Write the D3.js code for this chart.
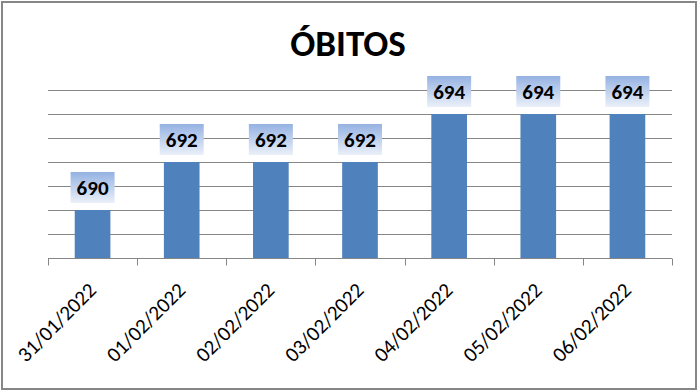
<!DOCTYPE html>
<html>
<head>
<meta charset="utf-8">
<script src="https://cdn.jsdelivr.net/npm/d3@7"></script>
<style>
  html, body { margin: 0; padding: 0; background: #fff; }
  svg { display: block; font-family: Carlito, Calibri, "Liberation Sans", sans-serif; }
</style>
</head>
<body>
<div id="chart"></div>
<script>
const categories = ['31/01/2022', '01/02/2022', '02/02/2022', '03/02/2022', '04/02/2022', '05/02/2022', '06/02/2022'];
const obitos = [690, 692, 692, 692, 694, 694, 694];
const yDomain = [688, 695];
const gridValues = [689, 690, 691, 692, 693, 694, 695];

const width = 698, height = 391;
const margin = {top: 90, right: 26, bottom: 133, left: 48};
const innerW = width - margin.left - margin.right,
    innerH = height - margin.top - margin.bottom;

const svg = d3.select('#chart')
    .append('svg')
    .attr('width', width)
    .attr('height', height);

const defs = svg.append('defs');
const grad = defs.append('linearGradient')
    .attr('id', 'labelGrad')
    .attr('x1', 0).attr('y1', 0).attr('x2', 0).attr('y2', 1);
grad.append('stop').attr('offset', '0%').attr('stop-color', '#95b2e3');
grad.append('stop').attr('offset', '100%').attr('stop-color', '#ebf0f9');

// outer frame
svg.append('rect')
    .attr('x', 2).attr('y', 2)
    .attr('width', width - 4).attr('height', height - 4)
    .attr('fill', '#fff')
    .attr('stroke', '#868686')
    .attr('stroke-width', 2);

svg.append('text')
    .attr('x', 348)
    .attr('y', 56)
    .attr('text-anchor', 'middle')
    .attr('font-size', 37)
    .attr('font-weight', 'bold')
    .attr('fill', '#000')
    .text('ÓBITOS');

const g = svg.append('g')
    .attr('transform', `translate(${margin.left}, ${margin.top})`);

const x = d3.scaleBand()
    .domain(categories)
    .range([0, innerW])
    .paddingInner(0.6)
    .paddingOuter(0.3);

const y = d3.scaleLinear()
    .domain(yDomain)
    .range([innerH, 0]);

// gridlines
g.append('g')
    .selectAll('line')
    .data(gridValues)
    .enter().append('line')
    .attr('x1', 0).attr('x2', innerW)
    .attr('y1', d => Math.round(y(d)) + 0.5)
    .attr('y2', d => Math.round(y(d)) + 0.5)
    .attr('stroke', '#868686')
    .attr('stroke-width', 1);

// bars
g.append('g')
    .selectAll('rect')
    .data(obitos)
    .enter().append('rect')
    .attr('x', (d, i) => x(categories[i]))
    .attr('y', d => y(d))
    .attr('width', x.bandwidth())
    .attr('height', d => innerH - y(d))
    .attr('fill', '#4f81bd');

// x axis line + boundary ticks
const axis = g.append('g').attr('transform', `translate(0, ${Math.round(innerH) + 0.5})`);
axis.append('line')
    .attr('x1', 0).attr('x2', innerW)
    .attr('stroke', '#868686');
const bounds = d3.range(categories.length + 1).map(i => i * x.step());
axis.selectAll('.tick')
    .data(bounds)
    .enter().append('line')
    .attr('x1', d => Math.round(d) + 0.5)
    .attr('x2', d => Math.round(d) + 0.5)
    .attr('y1', 0).attr('y2', 7)
    .attr('stroke', '#868686');

// category labels
axis.selectAll('.lbl')
    .data(categories)
    .enter().append('text')
    .attr('transform', d => `translate(${x(d) + x.bandwidth() / 2 + 5}, 33) rotate(-45)`)
    .attr('text-anchor', 'end')
    .attr('font-size', 21)
    .attr('fill', '#000')
    .text(d => d);

// value labels
const labels = g.append('g')
    .selectAll('g')
    .data(obitos)
    .enter().append('g')
    .attr('transform', (d, i) => `translate(${x(categories[i]) + x.bandwidth() / 2}, ${y(d) - 7})`);

labels.append('rect')
    .attr('x', -22).attr('y', -31)
    .attr('width', 44).attr('height', 31)
    .attr('fill', 'url(#labelGrad)');

labels.append('text')
    .attr('y', -15.5)
    .attr('dy', '0.35em')
    .attr('text-anchor', 'middle')
    .attr('font-size', 21)
    .attr('font-weight', 'bold')
    .attr('fill', '#000')
    .text(d => d);
</script>
</body>
</html>
